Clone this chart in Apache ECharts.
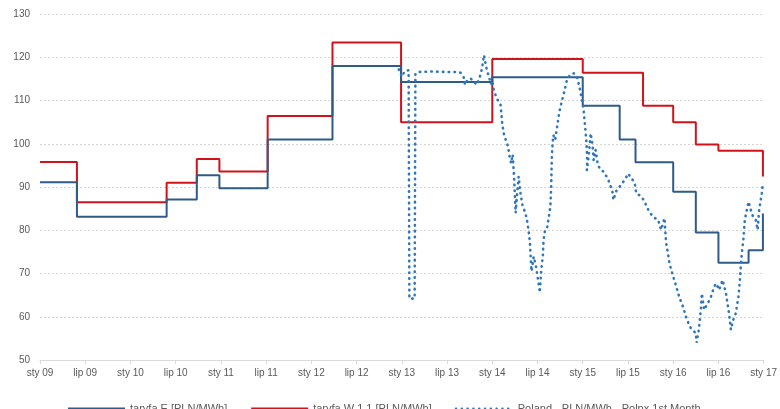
<!DOCTYPE html>
<html>
<head>
<meta charset="utf-8">
<script src="https://cdn.jsdelivr.net/npm/echarts@6/dist/echarts.min.js"></script>
<style>html,body{margin:0;padding:0;background:#fff;overflow:hidden;}#c{width:780px;height:409px;}</style>
</head>
<body>
<div id="c"></div>
<script>
// x values are months since January 2009
var xTickLabels = ['sty 09','lip 09','sty 10','lip 10','sty 11','lip 11','sty 12','lip 12','sty 13','lip 13','sty 14','lip 14','sty 15','lip 15','sty 16','lip 16','sty 17'];
var seriesNames = ['taryfa E [PLN/MWh]', 'taryfa W 1.1 [PLN/MWh]', 'Poland - PLN/MWh - Polpx 1st Month'];

var taryfaE = [[0,91.1],[4.9,83.1],[16.8,87.1],[20.8,92.7],[23.8,89.7],[30.2,101.0],[38.8,118.0],[47.9,114.3],[60.0,115.4],[72.0,108.8],[76.9,101.0],[79.0,95.7],[84.0,88.9],[87.0,79.5],[90.0,72.5],[94.0,75.4],[95.9,83.9]];

var taryfaW = [[0,95.8],[4.9,86.5],[16.8,91.0],[20.8,96.5],[23.8,93.6],[30.2,106.4],[38.8,123.4],[47.9,105.0],[60.0,119.6],[72.0,116.4],[80.0,108.8],[84.0,105.0],[87.0,99.8],[90.0,98.4],[95.9,92.4]];

var polpx = [[47.6,117.2],[48.0,115.5],[48.4,116.8],[48.9,117.0],[49.0,64.2],[49.7,64.2],[49.8,116.2],[50.3,116.6],[52.0,116.7],[54.0,116.6],[55.4,116.6],[55.8,116.4],[56.2,115.4],[56.4,113.6],[56.7,114.7],[57.1,115.1],[57.6,114.4],[57.9,113.6],[58.2,114.7],[58.5,116.3],[58.7,118.2],[58.9,120.5],[59.1,118.6],[59.3,116.9],[59.6,115.3],[59.8,113.8],[60.0,114.6],[60.2,112.4],[60.6,110.5],[61.1,109.0],[61.3,105.0],[61.5,102.5],[61.8,100.8],[62.1,99.3],[62.3,97.0],[62.5,95.5],[62.7,97.5],[62.9,92.0],[63.0,88.0],[63.1,84.0],[63.3,88.5],[63.5,92.4],[63.7,89.0],[64.0,85.8],[64.4,83.9],[64.6,82.4],[64.8,80.1],[65.0,77.0],[65.1,73.5],[65.2,70.5],[65.5,73.9],[65.8,71.6],[66.0,69.3],[66.2,67.0],[66.3,65.6],[66.5,70.8],[66.7,73.9],[66.8,77.7],[67.0,80.1],[67.3,80.8],[67.5,83.1],[67.7,85.4],[67.8,89.3],[67.85,93.1],[67.9,97.0],[68.0,100.1],[68.1,102.0],[68.35,100.9],[68.6,103.9],[68.8,106.3],[69.0,108.2],[69.2,109.7],[69.45,111.3],[69.7,113.2],[69.9,114.7],[70.3,115.9],[70.8,116.3],[71.2,115.6],[71.4,114.3],[71.65,112.4],[71.9,110.0],[72.1,108.0],[72.3,104.3],[72.5,100.1],[72.6,96.2],[72.55,93.9],[72.8,97.4],[73.05,102.4],[73.3,99.7],[73.45,96.2],[73.7,98.6],[74.0,95.1],[74.4,93.9],[74.8,93.5],[75.2,92.3],[75.6,90.8],[76.0,88.5],[76.05,87.0],[76.5,89.3],[77.1,90.5],[77.7,92.0],[78.0,93.1],[78.5,92.0],[78.9,90.8],[79.1,88.5],[79.8,87.8],[80.2,86.6],[80.7,84.7],[81.3,83.1],[82.0,82.4],[82.4,80.1],[82.85,82.8],[83.0,78.5],[83.1,76.6],[83.3,74.7],[83.5,72.4],[83.75,70.8],[84.0,69.3],[84.4,67.0],[84.8,64.6],[85.3,62.3],[85.7,60.0],[86.2,57.7],[86.6,56.9],[87.0,56.2],[87.1,54.0],[87.4,57.0],[87.7,62.3],[87.8,65.4],[88.1,61.6],[88.6,63.1],[89.0,64.6],[89.45,67.0],[89.7,67.7],[90.1,66.2],[90.55,68.5],[91.0,65.4],[91.2,63.1],[91.4,60.8],[91.65,57.0],[91.95,59.2],[92.3,60.8],[92.65,64.6],[92.85,68.5],[92.97,71.6],[93.1,74.7],[93.3,77.7],[93.5,82.4],[93.85,85.4],[94.0,86.6],[94.3,84.7],[94.6,83.1],[94.95,82.4],[95.2,80.1],[95.4,84.7],[95.75,88.5],[95.9,90.8]];

var chart = echarts.init(document.getElementById('c'), null, {renderer: 'canvas'});
var txt = '#595959';
chart.setOption({
  animation: false,
  textStyle: {fontFamily: 'Liberation Sans, Arial, sans-serif'},
  grid: {left: 40, right: 12, top: 14, bottom: 49, containLabel: false},
  legend: {
    left: 62, top: 398, itemWidth: 57, itemHeight: 12, itemGap: 23,
    itemStyle: {opacity: 0, borderWidth: 0},
    textStyle: {color: txt, fontSize: 11},
    data: seriesNames
  },
  xAxis: {
    type: 'value', min: 0, max: 96, interval: 6,
    axisLine: {show: true, lineStyle: {color: '#d9d9d9', width: 1}},
    axisTick: {show: true, length: 4, lineStyle: {color: '#d9d9d9'}},
    axisLabel: {color: txt, fontSize: 10, margin: 8,
      formatter: function (v) { return xTickLabels[Math.round(v / 6)]; }},
    splitLine: {show: false}
  },
  yAxis: {
    type: 'value', min: 50, max: 130, interval: 10,
    axisLine: {show: false}, axisTick: {show: false},
    axisLabel: {color: txt, fontSize: 10, margin: 10},
    splitLine: {show: true, lineStyle: {color: '#d4d4d4', width: 1, type: [2, 2]}}
  },
  series: [
    {name: seriesNames[0], type: 'line', step: 'end', data: taryfaE, symbol: 'none', showSymbol: false,
     lineStyle: {color: '#2e5b87', width: 2}, itemStyle: {color: '#2e5b87'}, z: 3},
    {name: seriesNames[1], type: 'line', step: 'end', data: taryfaW, symbol: 'none', showSymbol: false,
     lineStyle: {color: '#d2121b', width: 2}, itemStyle: {color: '#d2121b'}, z: 2},
    {name: seriesNames[2], type: 'line', data: polpx, symbol: 'none', showSymbol: false,
     lineStyle: {color: '#2f77bd', width: 2.6, type: [0.5, 5.3], cap: 'round'}, itemStyle: {color: '#2f77bd'}, z: 4}
  ]
});
</script>
</body>
</html>
